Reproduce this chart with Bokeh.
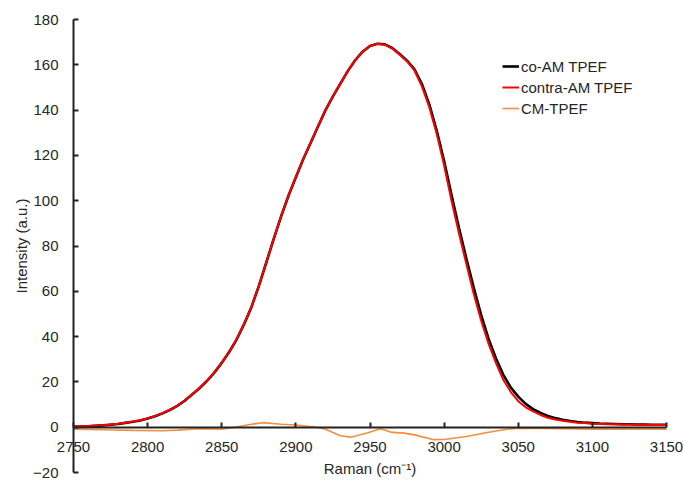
from bokeh.plotting import figure
from bokeh.models import Range1d, FixedTicker, Legend, LegendItem, LinearAxis
from bokeh.embed import file_html
from bokeh.resources import INLINE

# ---- data ----
raman = [2750, 2755, 2760, 2765, 2770, 2775, 2780, 2785, 2790, 2795,
         2800, 2805, 2810, 2815, 2820, 2825, 2830, 2835, 2840, 2845,
         2850, 2855, 2860, 2865, 2870, 2875, 2880, 2885, 2890, 2895,
         2900, 2905, 2910, 2915, 2920, 2925, 2930, 2935, 2940, 2945,
         2950, 2955, 2960, 2965, 2970, 2975, 2980, 2985, 2990, 2995,
         3000, 3005, 3010, 3015, 3020, 3025, 3030, 3035, 3040, 3045,
         3050, 3055, 3060, 3065, 3070, 3075, 3080, 3085, 3090, 3095,
         3100, 3105, 3110, 3115, 3120, 3125, 3130, 3135, 3140, 3145, 3150]

co_am = [0.2, 0.3, 0.4, 0.6, 0.8, 1.1, 1.4, 1.9, 2.4, 3.0,
         3.8, 4.8, 6.1, 7.6, 9.4, 11.7, 14.4, 17.2, 20.4, 24.1,
         28.4, 33.2, 38.7, 45.4, 53.0, 62.3, 72.6, 83.0, 93.0, 102.2,
         110.4, 118.4, 125.6, 132.9, 140.0, 146.1, 151.7, 157.2, 162.0, 165.8,
         168.3, 169.3, 169.0, 167.4, 164.8, 161.8, 158.0, 151.5, 142.5, 131.0,
         117.5, 102.5, 88.0, 74.5, 61.5, 49.5, 39.0, 30.3, 23.0, 17.5,
         13.5, 10.3, 8.0, 6.3, 5.0, 4.0, 3.3, 2.7, 2.3, 2.0,
         1.8, 1.6, 1.5, 1.4, 1.3, 1.3, 1.2, 1.2, 1.1, 1.1, 1.1]

contra_am = [0.3, 0.4, 0.5, 0.7, 0.9, 1.2, 1.5, 2.0, 2.5, 3.1,
             3.9, 4.9, 6.2, 7.7, 9.5, 11.8, 14.5, 17.3, 20.5, 24.2,
             28.5, 33.3, 38.8, 45.5, 53.1, 62.4, 72.7, 83.1, 93.1, 102.3,
             110.5, 118.5, 125.7, 133.0, 140.0, 146.2, 151.8, 157.3, 162.0, 165.8,
             168.3, 169.3, 168.9, 167.2, 164.5, 161.5, 157.5, 150.5, 141.3, 129.5,
             115.5, 100.0, 85.6, 72.0, 58.8, 47.0, 36.8, 28.3, 20.8, 15.5,
             11.5, 8.8, 7.0, 5.4, 4.2, 3.4, 2.8, 2.4, 2.0, 1.8,
             1.6, 1.45, 1.3, 1.25, 1.2, 1.15, 1.1, 1.05, 1.0, 1.0, 1.0]

cm_raman = [2750, 2770, 2790, 2810, 2820, 2835, 2850, 2860, 2870, 2878,
            2890, 2900, 2914, 2920, 2930, 2937, 2948, 2957, 2965, 2973,
            2980, 2993, 3000, 3015, 3030, 3040, 3050, 3080, 3100, 3150]
cm_tpef = [-0.9, -1.1, -1.4, -1.6, -1.3, -0.7, -0.9, 0.1, 1.3, 2.0,
           1.3, 1.0, 0.0, -0.9, -3.8, -4.4, -2.6, -0.7, -2.3, -2.6,
           -3.4, -5.5, -5.4, -4.1, -2.2, -1.1, -0.4, -0.7, -0.9, -0.9]

x_ticks = [2750, 2800, 2850, 2900, 2950, 3000, 3050, 3100, 3150]
y_ticks = [-20, 0, 20, 40, 60, 80, 100, 120, 140, 160, 180]

series_names = ["co-AM TPEF", "contra-AM TPEF", "CM-TPEF"]

FONT = "Liberation Sans"
TXT = "#262626"

# ---- layout (screen geometry, page pixels) ----
W, H = 683, 482
OX, OY = 0, 1                  # measured page offset of the canvas
LEFT_PX, RIGHT_PX = 73, 666    # page x of first / last x tick
TOP_PX, BOTTOM_PX = 20, 473    # page y of top / bottom y tick
XPX = (RIGHT_PX - LEFT_PX) / (x_ticks[-1] - x_ticks[0])
YPX = (BOTTOM_PX - TOP_PX) / (y_ticks[-1] - y_ticks[0])
x_start = x_ticks[0] - (LEFT_PX - OX) / XPX
x_end = x_start + W / XPX
y_end = y_ticks[-1] + (TOP_PX - OY) / YPX
y_start = y_end - H / YPX

p = figure(width=W, height=H, output_backend="svg", toolbar_location=None,
           x_range=Range1d(x_start, x_end), y_range=Range1d(y_start, y_end),
           x_axis_type=None, y_axis_type=None,
           min_border=0, min_border_left=0, min_border_right=0,
           min_border_top=0, min_border_bottom=0)
p.outline_line_color = None
p.background_fill_color = "white"
p.border_fill_color = "white"


def style_axis(ax, ticks):
    ax.ticker = FixedTicker(ticks=ticks)
    ax.bounds = (ticks[0], ticks[-1])
    ax.axis_line_width = 2
    ax.axis_line_color = "#222222"
    ax.major_tick_line_color = "#222222"
    ax.major_tick_line_width = 2
    ax.major_tick_in = 5
    ax.major_tick_out = 0
    ax.minor_tick_line_color = None
    ax.major_label_text_font = FONT
    ax.major_label_text_font_size = "15px"
    ax.major_label_text_color = TXT
    ax.axis_label_text_font = FONT
    ax.axis_label_text_font_size = "15px"
    ax.axis_label_text_font_style = "normal"
    ax.axis_label_text_color = TXT


ya = LinearAxis(fixed_location=x_ticks[0])
style_axis(ya, y_ticks)
ya.major_label_standoff = 15
ya.axis_label = "Intensity (a.u.)"
ya.axis_label_standoff = 0
p.add_layout(ya, "left")

xa = LinearAxis(fixed_location=0)
style_axis(xa, x_ticks)
xa.major_label_standoff = 15
xa.axis_label = "Raman (cm\u207b\u00b9)"
xa.axis_label_standoff = 4
p.add_layout(xa, "below")

# series
r_co = p.line(raman, co_am, line_color="black", line_width=2.6)
r_contra = p.line(raman, contra_am, line_color="#FF0000", line_width=2)
r_cm = p.line(cm_raman, cm_tpef, line_color="#F28E3F", line_width=1.6)

legend = Legend(items=[LegendItem(label=series_names[0], renderers=[r_co]),
                       LegendItem(label=series_names[1], renderers=[r_contra]),
                       LegendItem(label=series_names[2], renderers=[r_cm])],
                location=(502 - OX, H + OY - 119))
legend.border_line_color = None
legend.background_fill_alpha = 0
legend.label_text_font = FONT
legend.label_text_font_size = "15px"
legend.label_text_color = TXT
legend.glyph_width = 17
legend.glyph_height = 20
legend.label_standoff = 2
legend.label_height = 20
legend.spacing = 1
legend.padding = 0
legend.margin = 0
p.add_layout(legend, "center")

open("out.html", "w").write(file_html(p, INLINE))
